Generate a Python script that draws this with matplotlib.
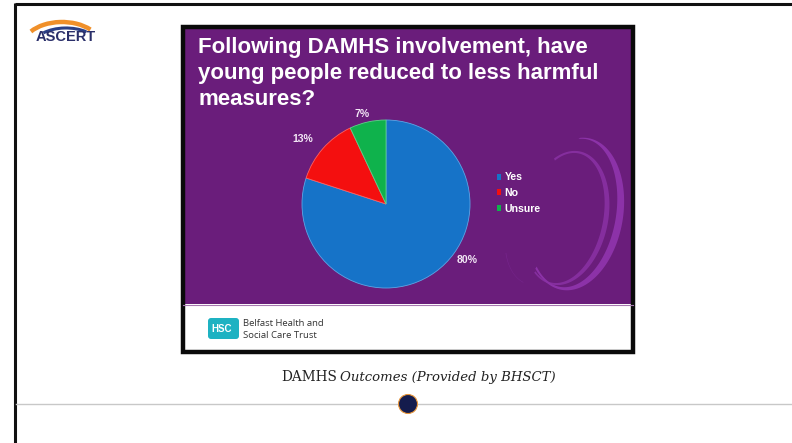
import numpy as np
import matplotlib
matplotlib.use("Agg")
import matplotlib.pyplot as plt
from matplotlib.patches import Rectangle, Arc, Circle, FancyBboxPatch, Polygon

# Survey answers
categories = ["Yes", "No", "Unsure"]
shares = [80, 13, 7]
slice_colors = ["#1673c8", "#f40f0f", "#0fb24c"]

title = "Following DAMHS involvement, have\nyoung people reduced to less harmful\nmeasures?"
caption_head = "DAMHS"
caption_tail = "Outcomes (Provided by BHSCT)"

W, H = 792, 443
fig = plt.figure(figsize=(W / 100, H / 100), dpi=100)
fig.patch.set_facecolor("white")

# Page canvas in pixel units (y grows downward)
bg = fig.add_axes([0, 0, 1, 1])
bg.set_xlim(0, W)
bg.set_ylim(H, 0)
bg.axis("off")

# Slide border
bg.plot([15, W], [4, 4], color="#111111", lw=2.2, solid_capstyle="butt")
bg.plot([15, 15], [3, H], color="#111111", lw=2.2, solid_capstyle="butt")

# ASCERT logo
bg.add_patch(Arc((62, 46), 78, 48, theta1=205, theta2=330, color="#f0902a", lw=3.2))
bg.add_patch(Arc((66, 46), 66, 36, theta1=210, theta2=325, color="#2b3f86", lw=2.2))
bg.text(66, 36.5, "ASCERT", color="#2a2f6a", fontsize=10.5, fontweight="bold",
        ha="center", va="center", family="Liberation Sans")

# Framed picture
purple = "#6a1d7b"
bg.add_patch(Rectangle((183, 27), 450, 325, facecolor="white", edgecolor="none"))
bg.add_patch(Rectangle((183, 27), 450, 277, facecolor=purple, edgecolor="none"))
bg.plot([183, 633], [304.5, 304.5], color="#a678b0", lw=0.8)


def ellipse_pts(c, a, b, rot, t):
    rr = np.deg2rad(rot)
    x, y = a * np.cos(t), b * np.sin(t)
    return np.column_stack([c[0] + x * np.cos(rr) - y * np.sin(rr),
                            c[1] + x * np.sin(rr) + y * np.cos(rr)])


def crescent(outer, inner, t1, t2, color, alpha):
    t = np.deg2rad(np.linspace(t1, t2, 200))
    pts = np.vstack([ellipse_pts(*outer, t), ellipse_pts(*inner, t[::-1])])
    poly = Polygon(pts, closed=True, facecolor=color, edgecolor="none", alpha=alpha)
    bg.add_patch(poly)
    poly.set_clip_path(Rectangle((183, 27), 450, 277, transform=bg.transData))


# Decorative swirl bands
crescent(((575, 214), 48, 77, 10), ((573, 213), 43, 75, 10), -100, 128, "#8e34ab", 0.95)
crescent(((566, 218), 42, 68, 12), ((565, 218), 38, 66, 12), -125, 118, "#8a32a5", 0.85)
crescent(((548, 226), 40, 62, 20), ((547, 226), 38, 61, 20), 95, 140, "#7d2996", 0.7)

bg.add_patch(Rectangle((183, 27), 450, 325, facecolor="none",
                       edgecolor="#0a0a0a", lw=3.2))

bg.text(198, 37, title, color="white", fontsize=16, fontweight="bold",
        ha="left", va="top", family="Liberation Sans", linespacing=1.3)

# HSC logo strip
bg.add_patch(FancyBboxPatch((208, 318), 31, 21, boxstyle="round,pad=0,rounding_size=3",
                            facecolor="#1eb2c2", edgecolor="none"))
bg.text(222, 328.5, "HSC", color="white", fontsize=7, fontweight="bold",
        ha="center", va="center", family="Liberation Sans")
bg.text(243, 323, "Belfast Health and", color="#333333", fontsize=6.8,
        ha="left", va="center", family="Open Sans")
bg.text(243, 336, "Social Care Trust", color="#333333", fontsize=6.8,
        ha="left", va="center", family="Open Sans")

# Caption and divider
bg.text(337, 377, caption_head, color="#222222", fontsize=9.8,
        ha="right", va="center", family="DejaVu Serif")
bg.text(340, 377, caption_tail, color="#222222", fontsize=9.5, style="italic",
        ha="left", va="center", family="DejaVu Serif")
bg.plot([16, W], [404, 404], color="#c8c8c8", lw=1.0)
bg.add_patch(Circle((408, 404), 9.5, facecolor="#141c4d", edgecolor="#e8963a", lw=0.8, zorder=5))

# Pie chart
cx, cy, r = 386, 204, 84
pie_ax = fig.add_axes([(cx - r) / W, (H - cy - r) / H, 2 * r / W, 2 * r / H])
pie_ax.set_facecolor("none")
wedges, texts, autotexts = pie_ax.pie(
    shares, colors=slice_colors, startangle=90, counterclock=False,
    autopct="%d%%", wedgeprops=dict(edgecolor="#5aa6e6", linewidth=0.6),
    textprops=dict(color="#f2e6f5", fontsize=7.6, fontweight="bold", family="Liberation Sans"),
)
wedges[1].set_edgecolor("#ff6060")
wedges[2].set_edgecolor("#5fd08a")
pie_ax.set_xlim(-1, 1)
pie_ax.set_ylim(-1, 1)
label_pos = [(0.97, -0.67), (-0.99, 0.77), (-0.29, 1.07)]
for t, p in zip(autotexts, label_pos):
    t.set_position(p)

# Legend
leg = pie_ax.legend(wedges, categories, loc="center left", bbox_to_anchor=(1.13, 0.565),
                    frameon=False, handlelength=0.4, handleheight=0.5, handletextpad=0.3,
                    labelspacing=0.55, borderpad=0,
                    prop=dict(size=7.6, weight="bold", family="Liberation Sans"))
for txt in leg.get_texts():
    txt.set_color("white")
for h in leg.legend_handles:
    h.set_edgecolor("none")

fig.savefig("out.png", dpi=100, facecolor="white")
